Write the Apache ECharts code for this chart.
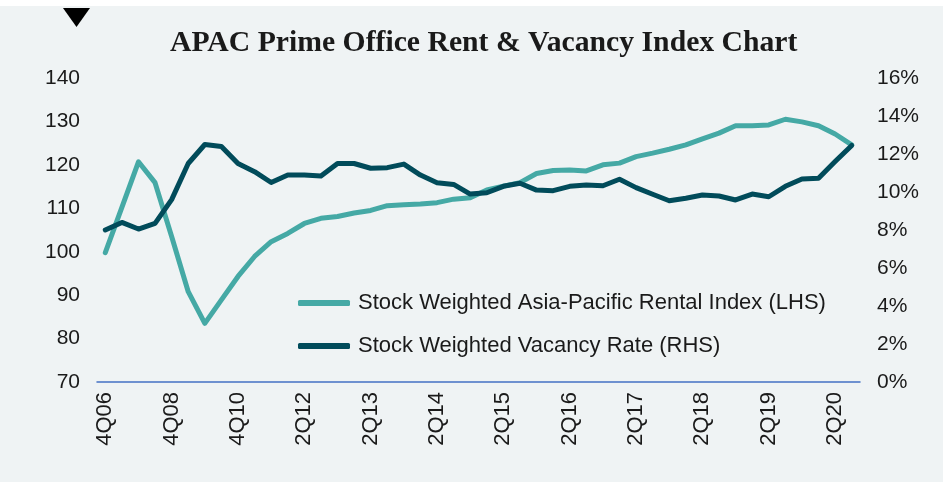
<!DOCTYPE html>
<html>
<head>
<meta charset="utf-8">
<script src="https://cdn.jsdelivr.net/npm/echarts@6/dist/echarts.min.js"></script>
<style>
  html, body { margin: 0; padding: 0; background: #ffffff; }
  #chart { width: 943px; height: 482px; }
</style>
</head>
<body>
<div id="chart"></div>
<script>
// 类目（前段为半年数据，之后为季度数据）
const categories = [
  '4Q06', '2Q07', '4Q07', '2Q08', '4Q08', '2Q09', '4Q09', '2Q10', '4Q10', '2Q11',
  '4Q11', '1Q12', '2Q12', '3Q12', '4Q12', '1Q13', '2Q13', '3Q13', '4Q13', '1Q14',
  '2Q14', '3Q14', '4Q14', '1Q15', '2Q15', '3Q15', '4Q15', '1Q16', '2Q16', '3Q16',
  '4Q16', '1Q17', '2Q17', '3Q17', '4Q17', '1Q18', '2Q18', '3Q18', '4Q18', '1Q19',
  '2Q19', '3Q19', '4Q19', '1Q20', '2Q20', '3Q20'
]

// 租金指数 (LHS)
const rentIndex = [
  99.8, 110.2, 120.7, 115.9, 103.5, 90.8, 83.5, 88.9, 94.3, 98.9,
  102.3, 104.2, 106.5, 107.7, 108.1, 108.9, 109.5, 110.6, 110.8, 111.0,
  111.3, 112.1, 112.4, 114.2, 115.1, 115.9, 118.0, 118.7, 118.8, 118.6,
  120.0, 120.4, 121.9, 122.7, 123.6, 124.6, 126.0, 127.3, 129.0, 129.0,
  129.2, 130.5, 129.9, 129.0, 127.1, 124.6
]

// 空置率 % (RHS)
const vacancyRate = [
  8.0, 8.4, 8.05, 8.35, 9.6, 11.5, 12.5, 12.4, 11.5, 11.07,
  10.5, 10.9, 10.9, 10.84, 11.5, 11.5, 11.25, 11.28, 11.47, 10.89,
  10.49, 10.4, 9.89, 9.96, 10.3, 10.46, 10.1, 10.07, 10.3, 10.37,
  10.33, 10.67, 10.23, 9.88, 9.54, 9.67, 9.84, 9.79, 9.58, 9.89,
  9.75, 10.3, 10.68, 10.72, 11.6, 12.45
]

const leftTicks = { min: 70, max: 140, step: 10 }
const rightTicks = { min: 0, max: 16, step: 2 }

const chart = echarts.init(document.getElementById('chart'))

const labelFont = {
  color: '#1a1a1a',
  fontSize: 21,
  fontFamily: 'Liberation Sans, Arial, sans-serif'
}

const option = {
  backgroundColor: '#eff3f4',
  animation: false,
  title: {
    text: 'APAC Prime Office Rent & Vacancy Index Chart',
    left: 165,
    top: 23,
    textStyle: {
      fontFamily: 'Liberation Serif, serif',
      fontWeight: 'bold',
      fontSize: 29.7,
      color: '#1a1a1a'
    }
  },
  graphic: [
    {
      type: 'rect',
      shape: { x: 0, y: 0, width: 943, height: 6 },
      style: { fill: '#ffffff' }
    },
    {
      type: 'polygon',
      shape: { points: [[63, 8], [90, 8], [76.5, 27]] },
      style: { fill: '#000000' }
    }
  ],
  grid: {
    left: 97,
    right: 83,
    top: 78,
    bottom: 100
  },
  legend: {
    orient: 'vertical',
    left: 298,
    top: 292,
    padding: 0,
    itemGap: 21,
    itemWidth: 52,
    itemHeight: 6,
    icon: 'roundRect',
    textStyle: {
      color: '#1a1a1a',
      fontSize: 22,
      fontFamily: 'Liberation Sans, Arial, sans-serif',
      padding: [0, 0, 0, 3]
    },
    data: [
      'Stock Weighted Asia-Pacific Rental Index (LHS)',
      'Stock Weighted Vacancy Rate (RHS)'
    ]
  },
  xAxis: {
    type: 'category',
    data: categories,
    boundaryGap: true,
    axisLine: { lineStyle: { color: '#4472c4', width: 1.5 } },
    axisTick: { show: false },
    axisLabel: {
      ...labelFont,
      fontSize: 22,
      rotate: 90,
      interval: 3,
      margin: 10
    }
  },
  yAxis: [
    {
      type: 'value',
      min: leftTicks.min,
      max: leftTicks.max,
      interval: leftTicks.step,
      axisLine: { show: false },
      axisTick: { show: false },
      splitLine: { show: false },
      axisLabel: { ...labelFont, margin: 17 }
    },
    {
      type: 'value',
      min: rightTicks.min,
      max: rightTicks.max,
      interval: rightTicks.step,
      position: 'right',
      axisLine: { show: false },
      axisTick: { show: false },
      splitLine: { show: false },
      axisLabel: { ...labelFont, margin: 17, formatter: '{value}%' }
    }
  ],
  series: [
    {
      name: 'Stock Weighted Asia-Pacific Rental Index (LHS)',
      type: 'line',
      yAxisIndex: 0,
      data: rentIndex,
      symbol: 'none',
      lineStyle: { color: '#45a9a5', width: 5, cap: 'round', join: 'round' },
      itemStyle: { color: '#45a9a5' },
      z: 2
    },
    {
      name: 'Stock Weighted Vacancy Rate (RHS)',
      type: 'line',
      yAxisIndex: 1,
      data: vacancyRate,
      symbol: 'none',
      lineStyle: { color: '#014b5a', width: 5, cap: 'round', join: 'round' },
      itemStyle: { color: '#014b5a' },
      z: 3
    }
  ]
}

chart.setOption(option)
</script>
</body>
</html>
